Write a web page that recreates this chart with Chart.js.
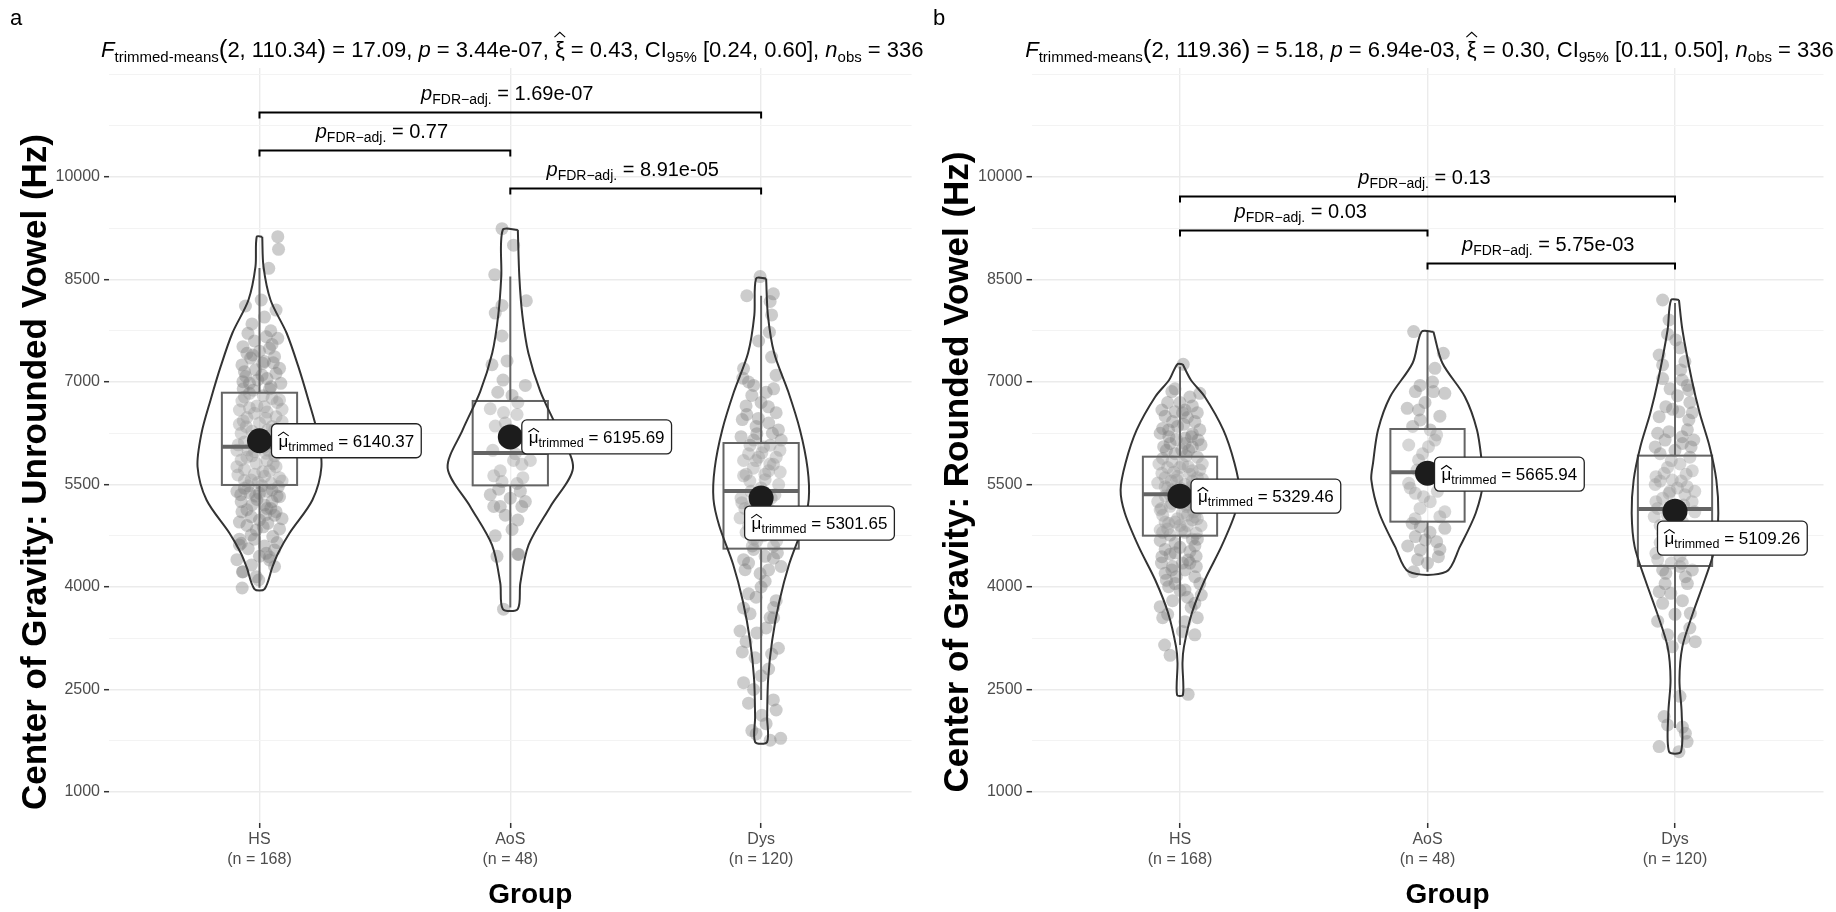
<!DOCTYPE html>
<html><head><meta charset="utf-8">
<script src="https://cdn.jsdelivr.net/npm/chart.js@4.4.1/dist/chart.umd.min.js"></script>
<style>
html,body{margin:0;padding:0;background:#fff;}
#wrap{position:relative;width:1836px;height:912px;overflow:hidden;}
.panel{position:absolute;top:0;height:912px;}
</style></head><body>
<div id="wrap">
<div class="panel" style="left:0;width:940px"><canvas id="ca" width="940" height="912"></canvas></div>
<div class="panel" style="left:918px;width:918px"><canvas id="cb" width="918" height="912"></canvas></div>
</div>
<script>
// ---------------- DATA ----------------
const groups = ['HS', 'AoS', 'Dys'];
const groupN = [168, 48, 120];
const yMajorTicks = [1000, 2500, 4000, 5500, 7000, 8500, 10000];
const yMinorTicks = [1750, 3250, 4750, 6250, 7750, 9250, 10750, 11500];

// Panel a: unrounded vowel
const meanA = [6140.37, 6195.69, 5301.65];
const whiskLowA = [3990, 3700, 2346];
const q1A = [5493, 5487, 4561];
const medA = [6053, 5962, 5405];
const q3A = [6843, 6722, 6107];
const whiskHighA = [8668, 8542, 8261];
const pairFrom = [1, 1, 2];
const pairTo = [2, 3, 3];
const pairPA = ['0.77', '1.69e-07', '8.91e-05'];
const statA = {df2: '110.34', F: '17.09', p: '3.44e-07', xi: '0.43', ci: '[0.24, 0.60]', n: '336'};

// violin outlines: [value, half width in category units], top to bottom
const violinA_HS = [[9126,0.011],[8687,0.016],[8200,0.044],[7717,0.108],[7224,0.155],[6737,0.195],[6254,0.231],[5760,0.247],[5273,0.211],[4790,0.12],[4500,0.075],[4297,0.052],[3970,0.02]];
const violinA_AoS = [[9226,0.03],[8542,0.036],[7980,0.048],[7424,0.072],[6860,0.12],[6298,0.19],[5741,0.25],[5178,0.16],[4615,0.073],[4058,0.04],[3678,0.03]];
const violinA_Dys = [[8515,0.02],[7980,0.027],[7424,0.052],[6860,0.108],[6298,0.155],[5741,0.185],[5288,0.19],[4897,0.167],[4337,0.112],[3780,0.072],[3215,0.044],[2654,0.028],[2097,0.024],[1732,0.024]];

// jittered observations: [x offset in category units, value]
const jitterA_HS = [[0.073,9127],[0.076,8941],[0.037,8663],[-0.056,8112],[0.007,8200],[0.066,8053],[-0.046,7712],[0.027,7663],[0.073,7639],[-0.066,7517],[0.04,7493],[-0.027,7395],[0.06,7371],[0.013,7273],[-0.06,7151],[0.066,7127],[-0.007,7029],[-0.066,7005],[0.046,6932],[-0.04,6834],[0.08,6737],[0.02,6639],[-0.08,6590],[-0.02,6541],[0.066,6493],[-0.053,6346],[0.033,6298],[-0.073,6249],[0,6151],[0.06,6078],[-0.046,6005],[0.027,5956],[-0.073,5858],[-0.013,5810],[0.066,5761],[0.013,5688],[-0.086,5639],[-0.033,5566],[0.046,5517],[-0.06,5444],[0,5371],[0.08,5322],[-0.073,5249],[0.02,5200],[0.066,5102],[-0.033,5029],[0.033,4932],[-0.013,4834],[-0.033,4761],[0.053,4737],[-0.073,4639],[0.027,4493],[0.04,4395],[-0.066,4224],[-0.013,4151],[-0.08,4615],[-0.032,4322],[-0.068,4220],[-0.069,3985],[0.04,4439],[0.06,4541],[-0.003,4102],
[-0.02,7600],[0.05,7550],[-0.05,7420],[0.02,7300],[-0.07,7250],[0.08,7200],[0.01,7100],[-0.04,6980],[0.04,6900],[-0.06,6780],[0.07,6700],[-0.01,6650],[0.03,6560],[-0.05,6480],[0.09,6420],[0.0,6400],[-0.08,6380],[0.05,6350],[-0.03,6280],[0.07,6200],[-0.06,6120],[0.02,6050],[-0.02,5980],[0.06,5920],[-0.05,5900],[0.03,5850],[-0.09,5760],[0.04,5700],[-0.02,5650],[0.08,5600],[-0.06,5560],[0.01,5480],[0.05,5420],[-0.04,5380],[0.07,5330],[-0.01,5280],[0.03,5150],[-0.07,5100],[0.06,5050],[0.0,4980],[-0.05,4900],[0.08,4850],[-0.08,4700],[0.02,4600],[0.05,5250],[-0.03,5200],
[0.0,7450],[-0.035,7350],[0.055,7280],[-0.015,7180],[0.03,7050],[-0.055,7080],[0.085,6980],[-0.025,6880],[0.015,6800],[-0.07,6720],[0.05,6760],[-0.04,6620],[0.025,6470],[-0.065,6430],[0.06,6300],[-0.01,6230],[0.085,6140],[-0.085,6080],[0.035,6000],[-0.03,5920],[0.055,5800],[-0.06,5720],[0.02,5620],[-0.045,5480],[0.075,5470],[0.03,5400],[-0.075,5350],[-0.015,5330],[0.045,5150],[-0.05,5130],[0.09,5000],[-0.08,4950],[0.015,4880],[-0.02,4700],[0.07,4650],[-0.045,4560],[0.0,4450],[-0.09,4400],[0.06,4300],[0.09,5550],[-0.09,6000],[0.09,6600],[-0.09,5400],[0.045,7750],[-0.03,7850],[0.02,7950],[-0.065,6900],[0.04,6100],[-0.005,5530],[0.025,5060]];
const jitterA_AoS = [[-0.033,9243],[0.013,9002],[-0.062,8570],[0.064,8189],[-0.033,8121],[-0.06,8009],[-0.033,7673],[-0.073,7252],[-0.013,7308],[-0.029,7028],[0.007,6804],[-0.08,6608],[-0.027,6552],[0.027,6524],[-0.06,6355],[0,6299],[0.046,6187],[0.013,5851],[0.046,5795],[0.08,5851],[-0.066,5626],[-0.033,5542],[0.027,5514],[-0.046,5430],[0.04,5402],[-0.066,5178],[-0.04,5178],[0.046,5178],[0.007,4841],[-0.053,4449],[0.033,4477],[-0.027,3675],
[0.06,6950],[-0.05,6850],[0.03,6700],[-0.02,6400],[0.07,6100],[-0.07,6000],[0.02,5950],[-0.04,5700],[0.05,5600],[0.0,5300],[-0.08,5350],[0.06,5250],[-0.02,5050],[0.03,4980],[-0.06,4750],[0.03,4480]];
const jitterA_Dys = [[-0.004,8542],[-0.057,8262],[0.049,8290],[0.036,8178],[0.042,7981],[0.033,7729],[0.042,7365],[-0.07,7196],[-0.073,7056],[-0.037,6804],[0.029,6636],[-0.057,6524],[-0.011,6467],[0.069,6299],[-0.017,6243],[-0.044,6075],[0.036,6075],[-0.07,5851],[0.003,5963],[0.049,5795],[-0.031,5738],[-0.07,5626],[0.076,5682],[0.016,5570],[-0.077,5234],[-0.044,5178],[0.036,5122],[-0.084,5010],[-0.05,4897],[0.023,4841],[-0.017,4673],[0.062,4673],[0.016,4449],[0.049,4421],[-0.064,4252],[-0.004,4197],[0.016,4084],[-0.07,3692],[-0.044,3608],[0.036,3552],[-0.084,3356],[-0.017,3327],[0.069,3103],[0.042,3019],[-0.024,2963],[-0.07,2599],[0.049,2347],[0.003,2122],[-0.037,1898],[0.036,1757],[0.078,1785],
[-0.03,6950],[0.05,6900],[0.0,6700],[-0.06,6650],[0.06,6550],[-0.02,6350],[0.03,6400],[-0.08,6200],[0.08,6150],[0.01,6050],[-0.05,5950],[0.06,5900],[-0.02,5850],[0.03,5700],[-0.06,5650],[0.07,5500],[0.0,5450],[-0.04,5400],[0.04,5300],[-0.08,5300],[0.02,5200],[-0.02,5050],[0.07,4950],[-0.06,4800],[0.01,4750],[0.05,4600],[-0.03,4550],[-0.07,4400],[0.08,4300],[0.0,4000],[-0.05,3900],[0.06,3800],[0.02,3400],[-0.06,3200],[0.03,2800],[-0.03,2500],
[-0.01,7600],[0.06,7100],[-0.05,7000],[0.02,6850],[-0.075,6450],[0.045,6250],[-0.03,6150],[0.075,6000],[-0.01,5900],[0.035,5800],[-0.045,5550],[0.055,5350],[-0.065,5150],[0.0,5100],[0.045,5000],[-0.03,4700],[0.065,4500],[-0.05,4350],[0.03,4250],[-0.02,3850],[0.05,3550],[-0.075,3050],[0.0,2700],[0.06,2200],[-0.05,2300],[0.02,2000],[-0.02,1850],[0.05,3700],[-0.035,4600],[0.015,5650]];

// Panel b: rounded vowel
const meanB = [5329.46, 5665.94, 5109.26];
const whiskLowB = [3150, 4224, 1936];
const q1B = [4751, 4956, 4307];
const medB = [5357, 5678, 5142];
const q3B = [5907, 6312, 5922];
const whiskHighB = [7224, 7736, 8156];
const pairPB = ['0.03', '0.13', '5.75e-03'];
const statB = {df2: '119.36', F: '5.18', p: '6.94e-03', xi: '0.30', ci: '[0.11, 0.50]', n: '336'};

const violinB_HS = [[7259,0.011],[7029,0.044],[6785,0.1],[6298,0.175],[5815,0.22],[5420,0.24],[5083,0.223],[4590,0.167],[4102,0.1],[3620,0.048],[3127,0.016],[2888,0.01],[2420,0.012]];
const violinB_AoS = [[7736,0.024],[7278,0.06],[6785,0.151],[6298,0.2],[5815,0.22],[5566,0.227],[5083,0.195],[4590,0.131],[4224,0.076]];
const violinB_Dys = [[8200,0.016],[7761,0.03],[7029,0.068],[6542,0.1],[6053,0.14],[5566,0.167],[5078,0.175],[4590,0.163],[4102,0.12],[3615,0.072],[3127,0.03],[2639,0.018],[2152,0.027],[1590,0.024]];

const jitterB_HS = [[0.013,7259],[-0.033,6859],[0.08,6834],[-0.073,6590],[-0.02,6566],[0.02,6590],[0.06,6420],[-0.046,6298],[0.046,6200],[-0.066,6054],[0.007,6005],[0.073,6151],[-0.033,5834],[0.033,5761],[-0.073,5663],[0.08,5712],[-0.013,5566],[-0.06,5468],[0.046,5468],[-0.033,5224],[-0.08,5127],[0.027,5176],[0.06,5029],[-0.046,4932],[0.007,4834],[-0.08,4834],[0.066,4785],[-0.02,4639],[-0.073,4444],[0.033,4395],[0.066,4298],[-0.033,4249],[-0.046,4005],[0.02,3956],[0.086,3883],[0.06,3761],[-0.08,3712],[0.02,3493],[-0.062,3151],[0.033,2429],
[0.0,6700],[0.05,6650],[-0.06,6500],[0.03,6480],[-0.01,6350],[0.08,6300],[-0.08,6250],[0.02,6180],[-0.04,6100],[0.05,6050],[-0.02,5950],[0.07,5900],[-0.07,5880],[0.01,5800],[-0.05,5750],[0.04,5650],[-0.01,5620],[0.09,5580],[-0.09,5520],[0.02,5500],[-0.03,5420],[0.06,5380],[-0.06,5330],[0.0,5300],[0.04,5250],[-0.04,5180],[0.08,5150],[0.01,5080],[-0.07,5050],[0.05,4980],[-0.02,4950],[0.03,4900],[-0.05,4850],[0.07,4700],[-0.08,4680],[0.0,4580],[0.04,4520],[-0.04,4480],[0.01,4350],[-0.06,4200],[0.06,4150],[-0.02,4050],[0.03,3850],[-0.05,3600],[0.07,3550],
[-0.02,6900],[0.04,6780],[-0.05,6700],[0.07,6550],[-0.03,6420],[0.015,6380],[-0.07,6320],[0.05,6240],[-0.015,6160],[0.085,6080],[-0.055,6000],[0.025,5920],[-0.085,5800],[0.05,5700],[-0.025,5680],[0.07,5600],[-0.06,5600],[0.0,5450],[-0.04,5350],[0.08,5300],[0.03,5200],[-0.075,5150],[0.055,5100],[-0.01,5000],[-0.06,4950],[0.085,4900],[0.02,4800],[-0.04,4760],[0.05,4700],[-0.02,4500],[0.065,4450],[-0.075,4350],[0.02,4250],[0.08,4050],[-0.055,4100],[0.0,3950],[-0.03,3800],[0.045,3700],[-0.07,3550],[0.01,3350],[0.06,3300],[-0.04,3000],[0.075,5500],[-0.09,5250],[0.035,6000],[-0.035,5550],[0.0,4900],[0.04,5400],[-0.06,4550],[0.09,5800],[0.01,6550],[-0.045,6200],[0.06,4600],[-0.015,4150],
[0.03,5050],[-0.02,5300],[0.05,5550],[-0.05,5450],[0.02,6100],[-0.07,4800],[0.07,5000],[0.0,5750],[-0.03,4300],[0.04,4350]];
const jitterB_AoS = [[-0.056,7737],[0.064,7420],[-0.049,6859],[0.024,6859],[0.07,6834],[-0.082,6615],[-0.036,6590],[-0.029,6444],[0.011,6298],[-0.076,6078],[0.004,6054],[0.037,6225],[-0.036,5859],[-0.042,5712],[-0.076,5517],[-0.049,5371],[-0.016,5322],[0.011,5249],[0.05,5029],[-0.062,4932],[-0.029,4883],[0.07,4859],[-0.049,4737],[-0.009,4688],[0.037,4663],[-0.029,4541],[0.044,4444],[-0.056,4224],
[0.02,7000],[-0.01,6700],[0.05,6500],[-0.06,6350],[0.03,6150],[-0.02,5950],[0.06,5800],[0.0,5600],[-0.07,5450],[0.04,5400],[-0.03,5150],[0.07,5100],[-0.05,5000],[0.01,4800],[-0.08,4600],[0.05,4550],[0.0,4350],[-0.04,4400],[0.03,7200],[-0.03,6950]];
const jitterB_Dys = [[-0.05,8200],[-0.024,7907],[0.003,7615],[-0.064,7395],[0.023,7176],[-0.05,7249],[0.029,7029],[0.056,6883],[-0.037,6639],[0.016,6566],[-0.064,6493],[0.056,6444],[-0.024,6273],[0.029,6200],[0.076,6151],[-0.077,5615],[-0.044,5663],[-0.011,5566],[0.049,5468],[0.069,5249],[-0.077,5249],[-0.024,5371],[-0.084,5030],[-0.05,4785],[-0.077,4493],[0.029,4346],[-0.037,4200],[0.042,4151],[-0.064,3932],[-0.017,3907],[0.062,3615],[-0.05,3761],[0.036,3249],[0.082,3200],[-0.011,3127],[-0.044,2103],[-0.03,1981],[0.042,1859],[-0.064,1664],[0.016,1590],[0.049,1737],
[0.0,6000],[-0.06,5950],[0.06,5900],[0.02,5800],[-0.03,5750],[0.07,5700],[-0.08,5500],[0.01,5450],[0.04,5350],[-0.05,5300],[0.0,5150],[0.08,5100],[-0.03,5050],[0.03,4950],[-0.06,4900],[0.06,4800],[0.0,4700],[-0.02,4600],[0.05,4550],[-0.07,4400],[0.02,4300],[0.07,4250],[-0.04,4050],[0.03,3800],[-0.07,3500],[0.06,6700],[-0.02,6900],[0.04,7300],[-0.03,7700],[0.01,6800],[-0.08,6050],[0.05,6300],
[0.02,7500],[-0.05,7050],[0.05,6950],[-0.01,6600],[0.07,6550],[-0.07,6250],[0.03,6100],[-0.04,6150],[0.065,6050],[-0.015,5850],[0.045,5650],[-0.06,5550],[0.025,5550],[-0.02,5400],[0.08,5400],[-0.07,5150],[0.035,5200],[0.0,4900],[-0.04,4850],[0.07,4700],[-0.06,4650],[0.02,4450],[-0.015,4350],[0.05,4050],[-0.05,4250],[0.0,3600],[0.06,3400],[-0.03,3300],[0.02,2400],[0.03,1950]];

// ---------------- STYLE ----------------
const FONT = "'Liberation Sans', Arial, Helvetica, sans-serif";
Chart.defaults.font.family = FONT;
const BOX_HW = 0.15;

function violinPath(cat, prof) {
  const right = prof.map(([v, w]) => ({x: cat + w, y: v}));
  const left = prof.slice().reverse().map(([v, w]) => ({x: cat - w, y: v}));
  return right.concat(left, [right[0]]);
}

function fontStr(s) {
  return (s.italic ? 'italic ' : '') + (s.bold ? 'bold ' : '') + s.size + 'px ' + FONT;
}
function drawHat(ctx, x, w, yTop, h) {
  ctx.save();
  ctx.lineWidth = 1.1;
  ctx.beginPath();
  ctx.moveTo(x + w * 0.05, yTop + h);
  ctx.lineTo(x + w * 0.5, yTop);
  ctx.lineTo(x + w * 0.95, yTop + h);
  ctx.stroke();
  ctx.restore();
}
function richWidth(ctx, segs) {
  let t = 0;
  segs.forEach(s => { ctx.font = fontStr(s); t += ctx.measureText(s.t).width + (s.gap || 0); });
  return t;
}
function drawRich(ctx, segs, x, y, align) {
  const total = richWidth(ctx, segs);
  let cx = align === 'center' ? x - total / 2 : x;
  ctx.textBaseline = 'alphabetic';
  ctx.textAlign = 'left';
  segs.forEach(s => {
    ctx.font = fontStr(s);
    const w = ctx.measureText(s.t).width;
    ctx.fillText(s.t, cx, y + (s.dy || 0));
    if (s.hat) drawHat(ctx, cx - 1, w + 2, y + (s.dy || 0) - s.size * s.hat, s.size * 0.22);
    cx += w + (s.gap || 0);
  });
  return total;
}

function makePanel(id, P) {
  const allTicks = yMajorTicks.concat(yMinorTicks).sort((a, b) => a - b);
  const majorSet = new Set(yMajorTicks);
  const datasets = [];
  datasets.push({label: 'trimmed mean', data: P.means.map((m, i) => ({x: i + 1, y: m})),
    pointRadius: 12.5, pointHoverRadius: 12.5, pointBackgroundColor: '#1c1c1c', pointBorderWidth: 0, order: 0});
  P.violins.forEach((prof, i) => datasets.push({label: 'violin ' + groups[i], data: violinPath(i + 1, prof),
    showLine: true, pointRadius: 0, pointHoverRadius: 0, borderColor: '#333333', borderWidth: 2, tension: 0.3, fill: false, order: 1}));
  const pts = [];
  P.jitter.forEach((arr, i) => arr.forEach(([dx, v]) => pts.push({x: i + 1 + dx, y: v})));
  const ptsIndex = datasets.length;
  datasets.push({label: 'observations', data: pts, pointRadius: 6.5, pointHoverRadius: 6.5,
    pointBackgroundColor: 'rgba(128,128,128,0.4)', pointBorderWidth: 0, order: 2});

  const plugin = {
    id: 'decor' + id,
    afterDatasetDraw(chart, args) {
      if (args.index !== ptsIndex) return;
      const {ctx, scales: {x, y}} = chart;
      ctx.save();
      for (let i = 0; i < 3; i++) {
        const cx = x.getPixelForValue(i + 1);
        const hw = x.getPixelForValue(i + 1 + BOX_HW) - cx;
        const yq1 = y.getPixelForValue(P.q1[i]), yq3 = y.getPixelForValue(P.q3[i]);
        const ym = y.getPixelForValue(P.med[i]);
        const ylo = y.getPixelForValue(P.lo[i]), yhi = y.getPixelForValue(P.hi[i]);
        ctx.fillStyle = 'rgba(255,255,255,0.2)';
        ctx.fillRect(cx - hw, yq3, 2 * hw, yq1 - yq3);
        ctx.strokeStyle = '#646464';
        ctx.lineWidth = 2;
        ctx.beginPath();
        ctx.moveTo(cx, yq3); ctx.lineTo(cx, yhi);
        ctx.moveTo(cx, yq1); ctx.lineTo(cx, ylo);
        ctx.stroke();
        ctx.strokeRect(cx - hw, yq3, 2 * hw, yq1 - yq3);
        ctx.lineWidth = 4;
        ctx.beginPath();
        ctx.moveTo(cx - hw, ym); ctx.lineTo(cx + hw, ym);
        ctx.stroke();
      }
      ctx.restore();
    },
    afterDraw(chart) {
      const {ctx, scales: {x, y}, chartArea} = chart;
      ctx.save();
      ctx.fillStyle = '#000';
      ctx.strokeStyle = '#000';
      // panel tag
      ctx.font = '22px ' + FONT;
      ctx.fillText(P.tag, P.tagX, 25);
      // subtitle
      const S = P.stat;
      const big = 22, sm = 15;
      const segs = [
        {t: 'F', italic: true, size: big},
        {t: 'trimmed-means', size: sm, dy: 5},
        {t: '(', size: 26, dy: 1},
        {t: '2, ' + S.df2, size: big},
        {t: ')', size: 26, dy: 1},
        {t: ' = ' + S.F + ', ', size: big},
        {t: 'p', italic: true, size: big},
        {t: ' = ' + S.p + ', ', size: big},
        {t: '\u03BE', size: big, hat: 1.12},
        {t: ' = ' + S.xi + ', CI', size: big},
        {t: '95%', size: sm, dy: 5},
        {t: ' ' + S.ci + ', ', size: big},
        {t: 'n', italic: true, size: big},
        {t: 'obs', size: sm, dy: 5},
        {t: ' = ' + S.n, size: big}
      ];
      drawRich(ctx, segs, (chartArea.left + chartArea.right) / 2 + 2, 57, 'center');

      // axis titles
      ctx.textAlign = 'center';
      ctx.textBaseline = 'middle';
      ctx.font = 'bold 28px ' + FONT;
      ctx.fillText('Group', x.getPixelForValue(2) + P.xTitleShift, 895);
      ctx.font = 'bold 35px ' + FONT;
      ctx.save();
      ctx.translate(P.yTitleX, 472);
      ctx.rotate(-Math.PI / 2);
      ctx.fillText(P.yTitle, 0, 0);
      ctx.restore();

      // pairwise brackets
      ctx.lineWidth = 2;
      for (let i = 0; i < pairFrom.length; i++) {
        const x1 = x.getPixelForValue(pairFrom[i]), x2 = x.getPixelForValue(pairTo[i]);
        const yy = Math.round(y.getPixelForValue(P.bracket[i])) + 0.5;
        ctx.beginPath();
        ctx.moveTo(x1, yy + 6); ctx.lineTo(x1, yy); ctx.lineTo(x2, yy); ctx.lineTo(x2, yy + 6);
        ctx.stroke();
        drawRich(ctx, [
          {t: 'p', italic: true, size: 20},
          {t: 'FDR\u2212adj.', size: 14, dy: 4},
          {t: ' = ' + P.pairP[i], size: 20}
        ], (x1 + x2) / 2 - 3, yy - 13, 'center');
      }

      // trimmed-mean labels
      for (let i = 0; i < 3; i++) {
        const px = x.getPixelForValue(i + 1), py = y.getPixelForValue(P.means[i]);
        const segs2 = [
          {t: '\u03BC', size: 17, hat: 0.86},
          {t: 'trimmed', size: 12.5, dy: 4},
          {t: ' = ' + P.means[i].toFixed(2), size: 17}
        ];
        const w = richWidth(ctx, segs2) + 14, h = 34;
        const bx = px + P.labelOff[i][0], by = py + P.labelOff[i][1];
        ctx.beginPath();
        ctx.roundRect(bx, by, w, h, 5);
        ctx.fillStyle = '#ffffff';
        ctx.fill();
        ctx.lineWidth = 1.3;
        ctx.strokeStyle = '#222';
        ctx.stroke();
        ctx.fillStyle = '#000';
        ctx.strokeStyle = '#000';
        drawRich(ctx, segs2, bx + 7, by + 23, 'left');
      }
      ctx.restore();
    }
  };

  return new Chart(document.getElementById(id), {
    type: 'scatter',
    data: {datasets},
    plugins: [plugin],
    options: {
      responsive: false, animation: false, devicePixelRatio: 1,
      events: [],
      layout: {padding: {left: 0, right: P.padRight, top: 68, bottom: 0}},
      plugins: {legend: {display: false}, tooltip: {enabled: false}},
      scales: {
        x: {
          type: 'linear', min: 0.4, max: 3.6,
          afterBuildTicks: s => { s.ticks = [1, 2, 3].map(v => ({value: v})); },
          afterFit: s => { s.height = 89; },
          ticks: {
            autoSkip: false, maxRotation: 0, minRotation: 0, padding: 2,
            color: '#4d4d4d', font: {size: 16, lineHeight: 1.25},
            callback: v => [groups[Math.round(v) - 1], '(n = ' + groupN[Math.round(v) - 1] + ')']
          },
          grid: {color: '#ebebeb', lineWidth: 1.4, tickLength: 5, tickColor: '#333', tickWidth: 1.5},
          border: {display: false}
        },
        y: {
          type: 'linear', min: 546, max: 11595,
          afterBuildTicks: s => { s.ticks = allTicks.map(v => ({value: v})); },
          afterFit: s => { s.width = P.yAxisW; },
          ticks: {
            autoSkip: false, padding: 4, color: '#4d4d4d', font: {size: 16},
            callback: v => majorSet.has(v) ? String(v) : ''
          },
          grid: {
            color: c => (c.tick && majorSet.has(c.tick.value)) ? '#ebebeb' : '#f3f3f3',
            lineWidth: c => (c.tick && majorSet.has(c.tick.value)) ? 1.4 : 1,
            tickLength: 5,
            tickColor: c => (c.tick && majorSet.has(c.tick.value)) ? '#333' : 'rgba(0,0,0,0)',
            tickWidth: 1.5
          },
          border: {display: false}
        }
      }
    }
  });
}

makePanel('ca', {
  tag: 'a', tagX: 10, stat: statA,
  yTitle: 'Center of Gravity: Unrounded Vowel (Hz)', yTitleX: 36, xTitleShift: 20,
  means: meanA, q1: q1A, med: medA, q3: q3A, lo: whiskLowA, hi: whiskHighA,
  violins: [violinA_HS, violinA_AoS, violinA_Dys],
  jitter: [jitterA_HS, jitterA_AoS, jitterA_Dys],
  pairP: pairPA, bracket: [10395, 10946, 9834],
  labelOff: [[12, -17], [11.5, -17], [-16.5, 8]],
  yAxisW: 109, padRight: 28.4
});
makePanel('cb', {
  tag: 'b', tagX: 15, stat: statB,
  yTitle: 'Center of Gravity: Rounded Vowel (Hz)', yTitleX: 40, xTitleShift: 20,
  means: meanB, q1: q1B, med: medB, q3: q3B, lo: whiskLowB, hi: whiskHighB,
  violins: [violinB_HS, violinB_AoS, violinB_Dys],
  jitter: [jitterB_HS, jitterB_AoS, jitterB_Dys],
  pairP: pairPB, bracket: [9224, 9720, 8734],
  labelOff: [[11, -17], [7, -16], [-17.5, 10]],
  yAxisW: 113.5, padRight: 3.2
});
</script>
</body></html>
